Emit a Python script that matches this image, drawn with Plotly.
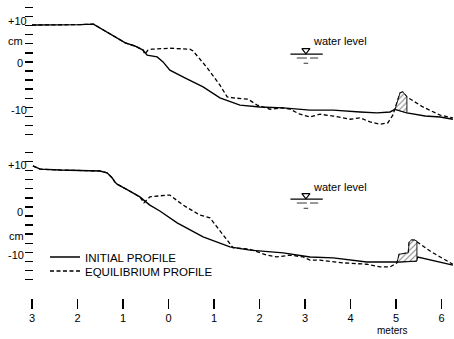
import plotly.graph_objects as go

# ---------------- data (x in meters, elevation in cm) ----------------
top_init_x = [-3.0, -2.4, -1.95, -1.65, -1.4, -1.18, -0.95, -0.74, -0.56, -0.47, -0.25, -0.12, 0.03,
              0.36, 0.76, 1.13, 1.57, 2.01, 2.52, 3.11, 3.62, 4.21, 4.58, 4.87, 4.98, 5.24, 5.64, 5.97, 6.25]
top_init_y = [10.1, 10.1, 10.2, 10.3, 8.8, 7.5, 6.2, 5.5, 4.6, 3.5, 3.1, 2.0, 0.2,
              -1.5, -3.5, -5.9, -7.5, -7.9, -8.1, -8.6, -8.6, -9.0, -9.2, -9.0, -8.4, -9.2, -9.9, -10.1, -10.6]

top_eq_x = [-3.0, -2.4, -1.95, -1.65, -1.4, -1.18, -0.95, -0.74, -0.56, -0.52, -0.45, -0.36, 0.03, 0.47,
            0.54, 0.85, 1.13, 1.29, 1.42, 1.75, 1.95, 2.23, 2.5, 2.67, 2.89, 3.11, 3.33, 3.62, 3.99, 4.21,
            4.43, 4.65, 4.82, 4.93, 5.02, 5.09, 5.15, 5.24, 5.59, 5.97, 6.25]
top_eq_y = [10.1, 10.1, 10.2, 10.3, 8.8, 7.5, 6.2, 5.5, 4.6, 3.7, 4.6, 4.8, 5.0, 4.8,
            4.4, 0.7, -3.1, -5.7, -5.9, -6.2, -7.5, -8.4, -8.1, -8.4, -9.5, -10.1, -9.5, -9.9, -10.6, -10.3,
            -11.2, -11.7, -11.4, -9.7, -7.0, -4.8, -4.6, -5.7, -7.9, -9.7, -10.3]

top_bar_x = [4.98, 5.02, 5.09, 5.15, 5.24, 5.24, 4.98]
top_bar_y = [-8.4, -7.0, -4.8, -4.6, -5.7, -9.2, -8.4]

bot_init_x = [-2.98, -2.82, -2.38, -1.51, -1.35, -1.24, -1.18, -1.13, -0.89, -0.63, -0.41, -0.19, 0.19,
              0.76, 1.35, 1.79, 2.52, 3.11, 3.62, 4.36, 5.02, 5.44, 5.48, 5.85, 6.25]
bot_init_y = [11.0, 10.3, 10.1, 9.9, 9.5, 8.4, 7.5, 7.0, 5.7, 4.2, 2.4, 1.1, -1.5,
              -4.6, -6.8, -7.5, -8.1, -9.0, -9.2, -10.1, -10.1, -9.9, -9.0, -9.9, -10.8]

bot_eq_x = [-2.98, -2.82, -2.38, -1.51, -1.35, -1.24, -1.18, -1.13, -0.89, -0.63,
            -0.54, -0.47, -0.41, -0.03, 0.03, 0.32, 0.69, 0.91, 1.07, 1.42, 1.79, 2.16, 2.38, 2.67, 2.96,
            3.11, 3.33, 3.84, 4.36, 4.65, 4.87, 5.02, 5.07, 5.27, 5.29, 5.34, 5.41, 5.54, 5.75, 5.97, 6.25]
bot_eq_y = [11.0, 10.3, 10.1, 9.9, 9.5, 8.4, 7.5, 7.0, 5.7, 4.2,
            2.9, 3.7, 4.2, 4.6, 4.6, 2.4, 0.2, -0.4, -2.4, -7.0, -7.3, -8.6, -9.0, -8.6, -9.0,
            -9.7, -9.7, -10.3, -10.6, -11.2, -11.2, -10.3, -8.4, -8.1, -5.7, -5.3, -5.3, -6.2, -7.7, -9.0, -10.6]

bot_bar_x = [5.02, 5.07, 5.27, 5.29, 5.34, 5.41, 5.46, 5.46, 5.02]
bot_bar_y = [-10.3, -8.4, -8.1, -5.7, -5.3, -5.3, -5.5, -9.9, -10.1]

water_level = 3.7          # cm
water_x = [2.68, 3.39]     # extent of water-level symbol (m)
water_mark_x = 3.02

x_ticks = [-3, -2, -1, 0, 1, 2, 3, 4, 5, 6]
x_tick_labels = ["3", "2", "1", "0", "1", "2", "3", "4", "5", "6"]
y_ticks = list(range(-14, 15, 2))
y_long_top = [10, 0, -10]
y_long_bot = [10, 0]

# ---------------- figure ----------------
FONT = "Liberation Sans, Arial, Helvetica, sans-serif"
INK = "#000000"
W, H = 454, 339

fig = go.Figure()
solid = dict(color=INK, width=1.4)
dashed = dict(color=INK, width=1.3, dash="4px,2.5px")


def add_panel(yref, ix, iy, ex, ey, bx, by, legend_on):
    fig.add_trace(go.Scatter(x=ix, y=iy, mode="lines", line=solid, yaxis=yref,
                             name="INITIAL PROFILE", showlegend=legend_on, legend="legend"))
    fig.add_trace(go.Scatter(x=ex, y=ey, mode="lines", line=dashed, yaxis=yref,
                             name="EQUILIBRIUM PROFILE", showlegend=legend_on, legend="legend2"))
    fig.add_trace(go.Scatter(x=bx, y=by, mode="lines", fill="toself", yaxis=yref,
                             line=dict(color=INK, width=0.9), fillcolor="white",
                             fillpattern=dict(shape="/", fgcolor=INK, bgcolor="white", size=4, solidity=0.25),
                             showlegend=False, hoverinfo="skip"))
    # water level symbol
    fig.add_trace(go.Scatter(x=water_x, y=[water_level, water_level], mode="lines", yaxis=yref,
                             line=dict(color=INK, width=1.1), showlegend=False, hoverinfo="skip"))
    fig.add_trace(go.Scatter(x=[2.82, 3.04, None, 3.11, 3.29], y=[water_level - 0.85] * 2 + [None] + [water_level - 0.85] * 2,
                             mode="lines", yaxis=yref, line=dict(color=INK, width=0.8),
                             showlegend=False, hoverinfo="skip"))
    fig.add_trace(go.Scatter(x=[2.97, 3.07], y=[water_level - 2.0] * 2, mode="lines", yaxis=yref,
                             line=dict(color=INK, width=0.8), showlegend=False, hoverinfo="skip"))
    fig.add_trace(go.Scatter(x=[water_mark_x], y=[water_level + 0.85], mode="markers", yaxis=yref,
                             marker=dict(symbol="triangle-down-open", size=7, color=INK, line=dict(width=1.2)),
                             showlegend=False, hoverinfo="skip"))


add_panel("y", top_init_x, top_init_y, top_eq_x, top_eq_y, top_bar_x, top_bar_y, False)
add_panel("y2", bot_init_x, bot_init_y, bot_eq_x, bot_eq_y, bot_bar_x, bot_bar_y, True)

xrange = [-168.5 / 45.5, (W - 168.5) / 45.5]
top_dom = [1 - 145 / H, 1]
bot_dom = [1 - 295 / H, 1 - 145 / H]
top_rng = [(71 - 145) / 4.55, 71 / 4.55]
bot_rng = [(216 - 295) / 4.55, (216 - 145) / 4.55]
ypos = 33 / W

yax = dict(anchor="free", position=ypos, showgrid=False, zeroline=False, showline=False,
           ticks="outside", ticklen=8, tickwidth=1.5, tickcolor=INK, showticklabels=False,
           tickmode="array", tickvals=y_ticks, fixedrange=True)

fig.update_layout(
    width=W, height=H, autosize=False,
    margin=dict(l=0, r=0, t=0, b=0),
    paper_bgcolor="white", plot_bgcolor="white",
    font=dict(family=FONT, color=INK, size=11),
    hovermode=False,
    xaxis=dict(range=xrange, domain=[0, 1], anchor="free", position=1 - 298 / H,
               showgrid=False, zeroline=False, showline=False,
               ticks="outside", ticklen=10, tickwidth=1.3, tickcolor=INK,
               tickmode="array", tickvals=x_ticks, ticktext=x_tick_labels,
               tickfont=dict(size=11, color=INK, family=FONT), fixedrange=True),
    yaxis=dict(domain=top_dom, range=top_rng, **yax),
    yaxis2=dict(domain=bot_dom, range=bot_rng, **yax),
    yaxis3=dict(overlaying="y", range=top_rng, anchor="free", position=ypos, showgrid=False,
                zeroline=False, showline=False, ticks="outside", ticklen=17, tickwidth=1.3,
                tickcolor=INK, showticklabels=False, tickmode="array", tickvals=y_long_top),
    yaxis4=dict(overlaying="y2", range=bot_rng, anchor="free", position=ypos, showgrid=False,
                zeroline=False, showline=False, ticks="outside", ticklen=17, tickwidth=1.3,
                tickcolor=INK, showticklabels=False, tickmode="array", tickvals=y_long_bot),
    legend=dict(x=45 / W, y=1 - 257 / H, xanchor="left", yanchor="middle",
                bgcolor="rgba(0,0,0,0)", borderwidth=0, font=dict(size=11.5, family=FONT, color=INK)),
    legend2=dict(x=45 / W, y=1 - 271 / H, xanchor="left", yanchor="middle",
                 bgcolor="rgba(0,0,0,0)", borderwidth=0, font=dict(size=11.5, family=FONT, color=INK)),
    showlegend=True,
)

ann = []
def lab(text, xp, yv, yref, size=11):
    ann.append(dict(text=text, x=xp / W, xref="paper", y=yv, yref=yref, showarrow=False,
                    xanchor="center", yanchor="middle", font=dict(size=size, family=FONT, color=INK)))

lab("+10", 17, 11.0, "y")
lab("cm", 15.5, 6.5, "y")
lab("0", 20, 1.65, "y")
lab("-10", 19, -8.6, "y")
lab("+10", 17, 11.2, "y2")
lab("0", 20, 0.8, "y2")
lab("cm", 16, -4.3, "y2")
lab("-10", 16, -8.5, "y2")

for yref, yv in (("y", 6.6), ("y2", 6.4)):
    ann.append(dict(text="water level", x=3.77, xref="x", y=yv, yref=yref, showarrow=False,
                    xanchor="center", yanchor="middle", font=dict(size=11, family=FONT, color=INK)))

ann.append(dict(text="meters", x=4.93, xref="x", y=1 - 330 / H, yref="paper", showarrow=False,
                xanchor="center", yanchor="middle", font=dict(size=10, family=FONT, color=INK)))
fig.update_layout(annotations=ann)

fig.write_html("out.html", config={"displayModeBar": False, "staticPlot": True},
               post_script="document.body.style.margin='0';document.body.style.padding='0';"
                           "document.body.style.overflow='hidden';")
